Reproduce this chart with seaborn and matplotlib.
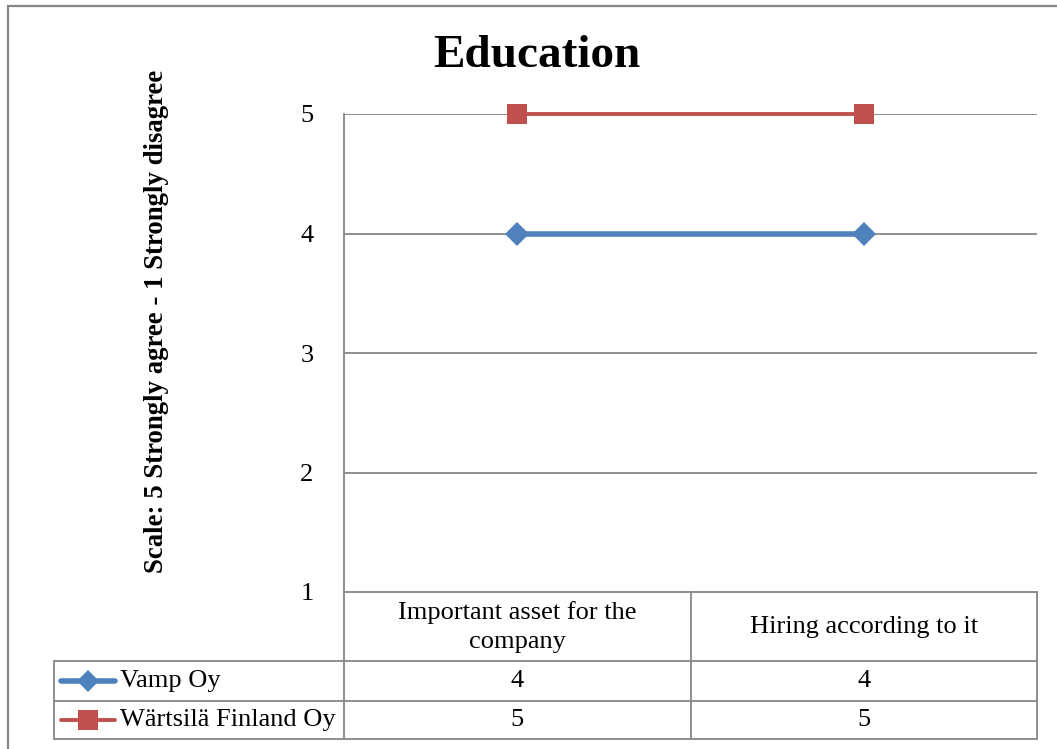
import numpy as np
import pandas as pd
import matplotlib
matplotlib.use('Agg')
import matplotlib.pyplot as plt
import seaborn as sns
from matplotlib.lines import Line2D
from matplotlib.patches import Rectangle
from matplotlib.transforms import blended_transform_factory

# data
categories = ['Important asset for the\ncompany', 'Hiring according to it']
companies = ['Vamp Oy', 'Wärtsilä Finland Oy']
vamp_scores = [4, 4]
wartsila_scores = [5, 5]
yticks = [1, 2, 3, 4, 5]

colors = {'Vamp Oy': '#4F81BD', 'Wärtsilä Finland Oy': '#C0504D'}
markers = {'Vamp Oy': 'D', 'Wärtsilä Finland Oy': 's'}
msizes = {'Vamp Oy': 12, 'Wärtsilä Finland Oy': 15}
lwidths = {'Vamp Oy': 4.0, 'Wärtsilä Finland Oy': 2.8}

df = pd.DataFrame({
    'category': categories * 2,
    'company': [companies[0]] * 2 + [companies[1]] * 2,
    'score': vamp_scores + wartsila_scores,
})

sns.set_theme(style='white')
plt.rcParams['font.family'] = ['Liberation Serif', 'DejaVu Serif']
plt.rcParams['text.color'] = 'black'
plt.rcParams['ytick.color'] = 'black'

W, H = 1057, 749
fig = plt.figure(figsize=(W / 100, H / 100), dpi=100)

def fx(px):
    return px / W

def fy(py):
    return 1 - py / H

GRAY = '#868686'

# outer chart frame
fig.patches.append(Rectangle((fx(8), -0.1), 1.2, fy(5.5) + 0.1, transform=fig.transFigure,
                             fill=False, edgecolor=GRAY, lw=1.6))

ax = fig.add_axes([fx(344), fy(592), fx(1037) - fx(344), fy(114) - fy(592)])

for comp in companies:
    sub = df[df['company'] == comp]
    sns.lineplot(data=sub, x='category', y='score', ax=ax, color=colors[comp],
                 marker=markers[comp], markersize=msizes[comp], markeredgewidth=0,
                 lw=lwidths[comp], label=comp, legend=False, zorder=3, clip_on=False)

ax.set_xlim(-0.5, len(categories) - 0.5)
ax.set_ylim(min(yticks), max(yticks))
ax.set_yticks(yticks)
ax.set_yticklabels([str(t) for t in yticks], fontsize=19, color='black')
ax.tick_params(axis='y', length=0, pad=22)
ax.set_xticks([])
ax.set_xlabel('')
ax.set_ylabel('')
for t in yticks[1:]:
    ax.axhline(t, color=GRAY, lw=1.3, zorder=1)
for side in ['top', 'right']:
    ax.spines[side].set_visible(False)
ax.spines['left'].set_color(GRAY)
ax.spines['left'].set_linewidth(1.3)
ax.spines['bottom'].set_color(GRAY)
ax.spines['bottom'].set_linewidth(1.3)

# title and y label
fig.text(fx(537), fy(56), 'Education', ha='center', va='center', fontsize=34, fontweight='bold')
fig.text(fx(157), fy(321), 'Scale: 5 Strongly agree - 1 Strongly disagree', rotation=90,
         ha='center', va='center', fontsize=19.3, fontweight='bold')

# data table
row_lines = [592, 661, 701, 739]
col_left, col_mid, col_right = 54, 344, 1037
xcat_edges = [344, 690.5, 1037]

def hline(x0, x1, y):
    fig.add_artist(Line2D([fx(x0), fx(x1)], [fy(y), fy(y)], transform=fig.transFigure,
                          color=GRAY, lw=1.3))

def vline(x, y0, y1):
    fig.add_artist(Line2D([fx(x), fx(x)], [fy(y0), fy(y1)], transform=fig.transFigure,
                          color=GRAY, lw=1.3))

for y in row_lines[1:]:
    hline(col_left, col_right, y)
for x in xcat_edges:
    vline(x, row_lines[0], row_lines[-1])
vline(col_left, row_lines[1], row_lines[-1])

trans = blended_transform_factory(ax.transData, fig.transFigure)
for i, cat in enumerate(categories):
    fig.text(i, fy(627), cat, transform=trans, ha='center', va='center', fontsize=19,
             linespacing=1.4)

series = {'Vamp Oy': vamp_scores, 'Wärtsilä Finland Oy': wartsila_scores}
for r, comp in enumerate(companies):
    yc = (row_lines[r + 1] + row_lines[r + 2]) / 2
    for i, v in enumerate(series[comp]):
        fig.text(i, fy(yc), str(v), transform=trans, ha='center', va='center', fontsize=19)
    fig.add_artist(Line2D([fx(61), fx(115)], [fy(yc), fy(yc)], transform=fig.transFigure,
                          color=colors[comp], lw=lwidths[comp], solid_capstyle='round'))
    fig.add_artist(Line2D([fx(88)], [fy(yc)], transform=fig.transFigure, color=colors[comp],
                          marker=markers[comp], markersize=msizes[comp] * 0.95, markeredgewidth=0))
    fig.text(fx(120), fy(yc), comp, ha='left', va='center', fontsize=19)

fig.savefig('out.png', dpi=100)
